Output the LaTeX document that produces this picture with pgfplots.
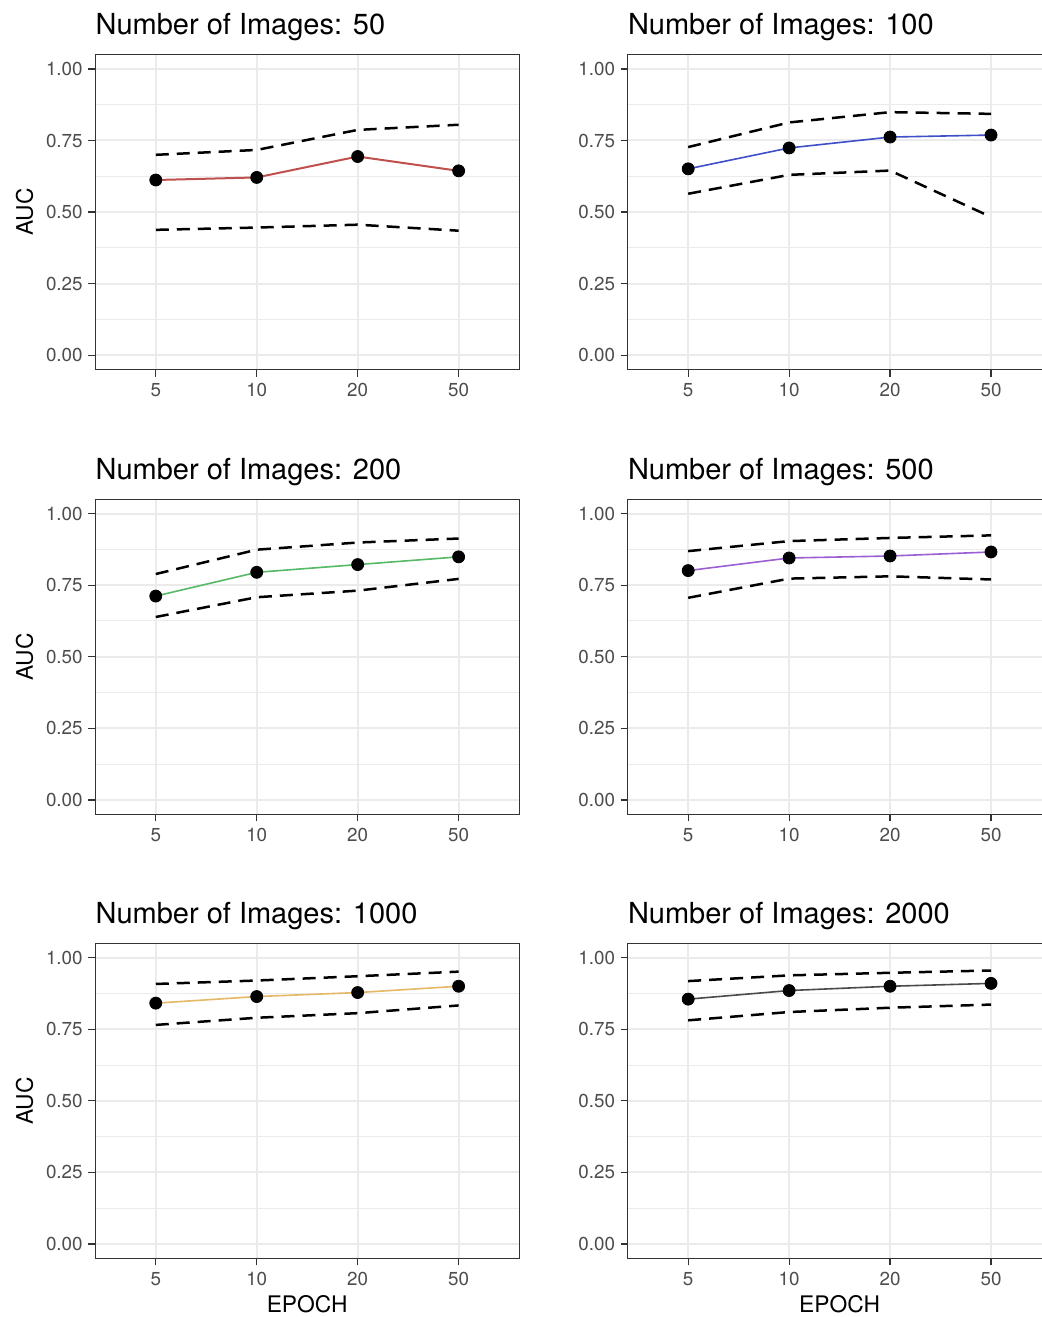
\documentclass[border=0pt]{standalone}
\usepackage{fontspec}
\setmainfont{TeX Gyre Heros}
\usepackage{pgfplots}
\pgfplotsset{compat=1.18}
\definecolor{grey92}{HTML}{EBEBEB}
\definecolor{grey20}{HTML}{333333}
\definecolor{grey30}{HTML}{4D4D4D}
\definecolor{cred}{HTML}{C0504D}
\definecolor{cblue}{HTML}{3F4FC9}
\definecolor{cgreen}{HTML}{55B966}
\definecolor{cpurple}{HTML}{9B5FD3}
\definecolor{corange}{HTML}{E5B865}
\definecolor{cdark}{HTML}{4A4A4A}
\pgfplotsset{
  panel/.style={
    scale only axis, width=212pt, height=157.5pt,
    anchor=south west,
    xmin=0.4, xmax=4.6, ymin=-0.05, ymax=1.05,
    xtick={1,2,3,4}, xticklabels={5,10,20,50},
    ytick={0,0.25,0.5,0.75,1}, yticklabels={0.00,0.25,0.50,0.75,1.00},
    minor ytick={0.125,0.375,0.625,0.875},
    xmajorgrids, ymajorgrids, yminorgrids,
    major grid style={color=grey92, line width=1pt},
    minor grid style={color=grey92, line width=0.5pt},
    axis line style={color=grey20, line width=0.6pt},
    tick align=outside, tick pos=left,
    major tick length=3.5pt, minor tick length=0pt,
    major tick style={color=grey20, line width=0.6pt},
    ticklabel style={font=\fontsize{9.4}{11}\selectfont, text=grey30},
    yticklabel style={inner sep=2.6pt},
    title style={at={(0,1)}, anchor=base west, inner sep=0pt, yshift=4pt, font=\fontsize{14.5}{16}\selectfont},
    ylabel style={at={(axis description cs:0,0.5)}, anchor=center, yshift=35.35pt, font=\fontsize{11.4}{13}\selectfont},
    xlabel style={at={(axis description cs:0.5,0)}, anchor=base, yshift=-27.2pt, font=\fontsize{11.4}{13}\selectfont},
  },
  ci/.style={black, line width=1.25pt, dash pattern=on 6.5pt off 4pt, no markers},
  mline/.style={line width=0.8pt, no markers},
  pts/.style={only marks, mark=*, mark size=3pt, black},
}
\begin{document}
\begin{tikzpicture}
\useasboundingbox (0,0) rectangle (521pt,658.5pt);
\fill[white] (0,0) rectangle (521pt,658.5pt);
\clip (0,0) rectangle (521pt,658.5pt);

% Row 1 left: 50
\begin{axis}[panel, at={(47.6pt,473.7pt)}, title={Number of Images: 50}, ylabel={AUC}]
\addplot[ci] coordinates {(1,0.700) (2,0.717) (3,0.787) (4,0.805)};
\addplot[ci] coordinates {(1,0.438) (2,0.446) (3,0.456) (4,0.435)};
\addplot[mline, cred, line width=1pt] coordinates {(1,0.612) (2,0.621) (3,0.694) (4,0.644)};
\addplot[pts] coordinates {(1,0.612) (2,0.621) (3,0.694) (4,0.644)};
\end{axis}

% Row 1 right: 100
\begin{axis}[panel, at={(313.8pt,473.7pt)}, title={Number of Images: 100}]
\addplot[ci] coordinates {(1,0.727) (2,0.813) (3,0.849) (4,0.843)};
\addplot[ci] coordinates {(1,0.564) (2,0.630) (3,0.645) (4,0.483)};
\addplot[mline, cblue] coordinates {(1,0.651) (2,0.724) (3,0.762) (4,0.769)};
\addplot[pts] coordinates {(1,0.651) (2,0.724) (3,0.762) (4,0.769)};
\end{axis}

% Row 2 left: 200
\begin{axis}[panel, at={(47.6pt,251.35pt)}, title={Number of Images: 200}, ylabel={AUC}]
\addplot[ci] coordinates {(1,0.789) (2,0.874) (3,0.899) (4,0.913)};
\addplot[ci] coordinates {(1,0.639) (2,0.708) (3,0.731) (4,0.772)};
\addplot[mline, cgreen] coordinates {(1,0.712) (2,0.795) (3,0.822) (4,0.849)};
\addplot[pts] coordinates {(1,0.712) (2,0.795) (3,0.822) (4,0.849)};
\end{axis}

% Row 2 right: 500
\begin{axis}[panel, at={(313.8pt,251.35pt)}, title={Number of Images: 500}]
\addplot[ci] coordinates {(1,0.869) (2,0.904) (3,0.915) (4,0.924)};
\addplot[ci] coordinates {(1,0.706) (2,0.773) (3,0.781) (4,0.770)};
\addplot[mline, cpurple] coordinates {(1,0.801) (2,0.845) (3,0.852) (4,0.866)};
\addplot[pts] coordinates {(1,0.801) (2,0.845) (3,0.852) (4,0.866)};
\end{axis}

% Row 3 left: 1000
\begin{axis}[panel, at={(47.6pt,29.35pt)}, title={Number of Images: 1000}, ylabel={AUC}, xlabel={EPOCH}]
\addplot[ci] coordinates {(1,0.908) (2,0.920) (3,0.935) (4,0.951)};
\addplot[ci] coordinates {(1,0.765) (2,0.790) (3,0.806) (4,0.833)};
\addplot[mline, corange] coordinates {(1,0.841) (2,0.864) (3,0.878) (4,0.900)};
\addplot[pts] coordinates {(1,0.841) (2,0.864) (3,0.878) (4,0.900)};
\end{axis}

% Row 3 right: 2000
\begin{axis}[panel, at={(313.8pt,29.35pt)}, title={Number of Images: 2000}, xlabel={EPOCH}]
\addplot[ci] coordinates {(1,0.918) (2,0.938) (3,0.947) (4,0.955)};
\addplot[ci] coordinates {(1,0.781) (2,0.810) (3,0.825) (4,0.836)};
\addplot[mline, cdark] coordinates {(1,0.855) (2,0.885) (3,0.900) (4,0.910)};
\addplot[pts] coordinates {(1,0.855) (2,0.885) (3,0.900) (4,0.910)};
\end{axis}
\end{tikzpicture}
\end{document}
